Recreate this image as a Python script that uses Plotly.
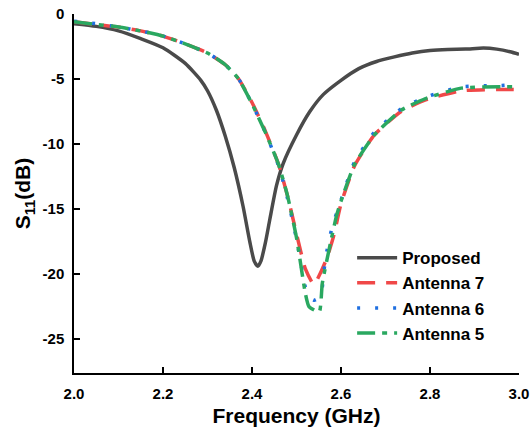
import plotly.graph_objects as go

# ---- data ----
freq_proposed = [2.00, 2.05, 2.10, 2.15, 2.20, 2.25, 2.285, 2.30, 2.32, 2.34, 2.36, 2.38, 2.395, 2.405,
                 2.413, 2.42, 2.43, 2.44, 2.455, 2.47, 2.50, 2.53, 2.56, 2.60, 2.64, 2.68, 2.72,
                 2.76, 2.80, 2.84, 2.88, 2.92, 2.95, 2.98, 3.00]
s11_proposed = [-0.75, -0.95, -1.3, -1.9, -2.6, -3.8, -5.1, -5.9, -7.4, -9.4, -11.8, -14.8, -17.5, -19.0,
                -19.4, -19.0, -17.6, -15.8, -13.2, -11.5, -9.3, -7.5, -6.2, -5.1, -4.2, -3.65, -3.3,
                -3.0, -2.8, -2.72, -2.7, -2.62, -2.7, -2.9, -3.1]

freq_ant7 = [2.00, 2.05, 2.10, 2.15, 2.20, 2.25, 2.30, 2.34, 2.37, 2.40, 2.43, 2.46, 2.48, 2.50,
             2.52, 2.539, 2.554, 2.569, 2.584, 2.60, 2.63, 2.675, 2.735, 2.79, 2.87, 2.96, 3.00]
s11_ant7 = [-0.6, -0.8, -1.0, -1.3, -1.7, -2.3, -3.0, -3.9, -5.0, -6.8, -9.0, -11.6, -14.0, -16.9,
            -19.6, -20.8, -19.9, -18.7, -17.0, -14.6, -11.7, -9.3, -7.5, -6.6, -5.9, -5.8, -5.8]

freq_ant6 = [2.00, 2.05, 2.10, 2.15, 2.20, 2.25, 2.30, 2.34, 2.37, 2.40, 2.43, 2.46, 2.48, 2.50,
             2.52, 2.53, 2.54, 2.554, 2.565, 2.58, 2.60, 2.63, 2.675, 2.735, 2.79, 2.87, 2.96, 3.00]
s11_ant6 = [-0.55, -0.75, -1.0, -1.3, -1.7, -2.3, -3.0, -3.9, -5.0, -6.9, -9.1, -11.7, -14.2, -17.3,
            -21.0, -21.8, -22.0, -21.7, -18.8, -16.4, -14.3, -11.4, -9.1, -7.3, -6.4, -5.6, -5.5, -5.4]

freq_ant5 = [2.00, 2.05, 2.10, 2.15, 2.20, 2.25, 2.30, 2.34, 2.37, 2.40, 2.43, 2.46, 2.48, 2.50,
             2.52, 2.528, 2.551, 2.558, 2.577, 2.59, 2.60, 2.63, 2.675, 2.735, 2.79, 2.87, 2.96, 3.00]
s11_ant5 = [-0.6, -0.8, -1.0, -1.3, -1.7, -2.3, -3.0, -3.9, -5.0, -6.9, -9.1, -11.6, -14.0, -17.2,
            -21.5, -22.5, -22.9, -20.7, -17.5, -15.5, -14.4, -11.6, -9.3, -7.4, -6.5, -5.7, -5.6, -5.6]

x_ticks = [2.0, 2.2, 2.4, 2.6, 2.8, 3.0]
x_tick_labels = ["2.0", "2.2", "2.4", "2.6", "2.8", "3.0"]
y_ticks = [0, -5, -10, -15, -20, -25]
y_tick_labels = ["0", "-5", "-10", "-15", "-20", "-25"]

FONT = "Liberation Sans, Arial, sans-serif"

fig = go.Figure()
fig.add_trace(go.Scatter(x=freq_proposed, y=s11_proposed, mode="lines", name="Proposed",
                         line=dict(color="#4a4a4a", width=3.5, shape="spline", smoothing=0.6)))
fig.add_trace(go.Scatter(x=freq_ant7, y=s11_ant7, mode="lines", name="Antenna 7",
                         line=dict(color="#f04848", width=3.5, dash="18px,11px", shape="spline", smoothing=0.5)))
fig.add_trace(go.Scatter(x=freq_ant6, y=s11_ant6, mode="lines", name="Antenna 6",
                         line=dict(color="#1f6fe0", width=3.5, dash="3px,15px", shape="spline", smoothing=0.5)))
fig.add_trace(go.Scatter(x=freq_ant5, y=s11_ant5, mode="lines", name="Antenna 5",
                         line=dict(color="#2aa860", width=3.5, dash="18px,7px,5px,7px", shape="spline", smoothing=0.5)))

axis_common = dict(showgrid=False, zeroline=False, showline=True, linecolor="black", linewidth=1.5,
                   ticks="inside", ticklen=6, tickwidth=1.5, tickcolor="black", automargin=False,
                   tickfont=dict(family=FONT, size=15, color="black", weight="bold"))

fig.update_xaxes(range=[2.0, 3.0], tickvals=x_ticks, ticktext=x_tick_labels,
                 title=dict(text="Frequency (GHz)", font=dict(family=FONT, size=21, color="black", weight="bold"),
                            standoff=8),
                 ticklabelstandoff=6, **axis_common)
fig.update_yaxes(range=[-27.6, 0], tickvals=y_ticks, ticktext=y_tick_labels,
                 title=dict(text="S<sub>11</sub>(dB)", font=dict(family=FONT, size=21, color="black", weight="bold"),
                            standoff=6),
                 ticklabelstandoff=5, **axis_common)

fig.update_layout(
    width=532, height=429,
    margin=dict(l=74, r=13, t=14, b=56),
    plot_bgcolor="white", paper_bgcolor="white",
    legend=dict(x=0.625, y=0.37, xanchor="left", yanchor="top", bgcolor="rgba(0,0,0,0)",
                font=dict(family=FONT, size=17, color="black", weight="bold"),
                tracegroupgap=0, itemwidth=40),
)

fig.write_html("out.html", config={"displayModeBar": False},
               post_script="document.body.style.margin='0';document.body.style.padding='0';")
